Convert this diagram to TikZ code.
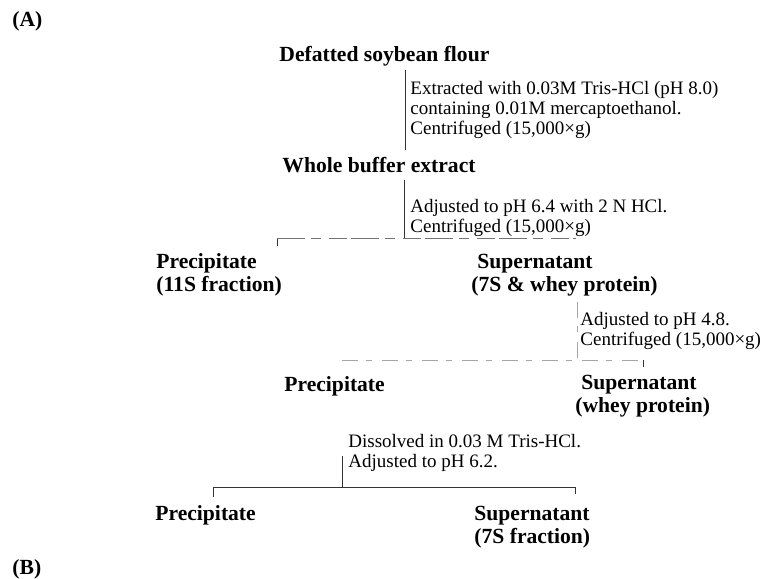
\documentclass[tikz,border=0pt]{standalone}
\usepackage{fontspec}
\setmainfont{Liberation Serif}
\newcommand{\mylines}[1]{\begin{tabular}[t]{@{}l@{}}#1\end{tabular}}
\begin{document}
\begin{tikzpicture}[x=0.5pt,y=-0.5pt,
  lbl/.style={inner sep=0pt,anchor=base west,font=\fontsize{10.8}{11.5}\selectfont\bfseries},
  note/.style={inner sep=0pt,anchor=base west,font=\fontsize{9.5}{10}\selectfont},
  conn/.style={draw=black!80,line width=0.45pt},
  broken/.style={draw=black!55,line width=0.45pt,dash pattern=on 14pt off 3pt on 5pt off 4pt on 9pt off 2pt},
  faint/.style={draw=black!35,line width=0.4pt,dash pattern=on 8pt off 4pt on 3pt off 5pt}]
\useasboundingbox (0,0) rectangle (764,578);
% labels
\node[lbl] (A) at (12,26) {(A)};
\node[lbl] (flour) at (279,61) {Defatted soybean flour};
\node[note] (n1) at (410,94) {\mylines{Extracted with 0.03M Tris-HCl (pH 8.0)\\containing 0.01M mercaptoethanol.\\Centrifuged (15,000×g)}};
\node[lbl] (whole) at (282,172) {Whole buffer extract};
\node[note] (n2) at (410,212) {\mylines{Adjusted to pH 6.4 with 2 N HCl.\\Centrifuged (15,000×g)}};
\node[lbl] (prec1) at (156,268) {\mylines{Precipitate\\(11S fraction)}};
\node[lbl] (sup1) at (471,268) {\mylines{\hspace{3pt}Supernatant\\(7S \& whey protein)}};
\node[note] (n3) at (580,325) {\mylines{Adjusted to pH 4.8.\\Centrifuged (15,000×g)}};
\node[lbl] (prec2) at (284,391) {Precipitate};
\node[lbl] (sup2) at (575,389) {\mylines{\hspace{3pt}Supernatant\\(whey protein)}};
\node[note] (n4) at (348,447) {\mylines{Dissolved in 0.03 M Tris-HCl.\\Adjusted to pH 6.2.}};
\node[lbl] (prec3) at (155,520) {Precipitate};
\node[lbl] (sup3) at (474,520) {\mylines{Supernatant\\(7S fraction)}};
\node[lbl] (B) at (12,574) {(B)};
% junction points
\coordinate (a1) at (405,70);  \coordinate (a2) at (405,150);
\coordinate (b1) at (404,180); \coordinate (b2) at (404,238);
\coordinate (bl) at (277,238); \coordinate (blt) at (277,246);
\coordinate (br) at (576,238);
\coordinate (c1) at (577,302); \coordinate (c2) at (577,360);
\coordinate (cl) at (342,360); \coordinate (cr) at (643,360); \coordinate (crt) at (643,367);
\coordinate (d1) at (342,456); \coordinate (d2) at (342,487);
\coordinate (dl) at (213,487); \coordinate (dlt) at (213,497);
\coordinate (dr) at (575,487); \coordinate (drt) at (575,494);
% connectors
\draw[conn] (a1) -- (a2);
\draw[conn] (b1) -- (b2);
\draw[conn] (blt) -- (bl);
\draw[broken] (bl) -- (br);
\draw[faint] (c1) -- (c2);
\draw[faint] (cl) -- (cr);
\draw[conn] (cr) -- (crt);
\draw[conn] (d1) -- (d2);
\draw[conn] (dlt) -- (dl) -- (dr) -- (drt);
\end{tikzpicture}
\end{document}
